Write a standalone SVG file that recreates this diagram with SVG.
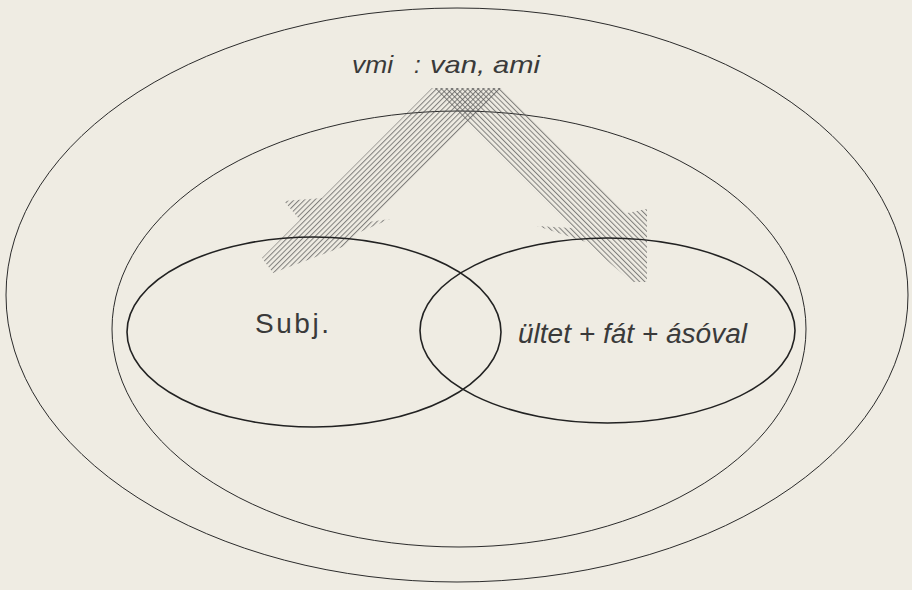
<svg xmlns="http://www.w3.org/2000/svg" width="912" height="590" viewBox="0 0 912 590">
  <style>
    .bg { fill: #efece3; }
    .thin { fill: none; stroke: #2b2b2b; stroke-width: 1; }
    .thick { fill: none; stroke: #222; stroke-width: 1.6; }
    .lbl { font-family: "Liberation Sans", "DejaVu Sans", sans-serif; fill: #3a3a3a; }
  </style>
  <defs>
    <pattern id="hatchL" width="3.7" height="10" patternUnits="userSpaceOnUse" patternTransform="rotate(45)">
      <line x1="1.5" y1="0" x2="1.5" y2="10" stroke="#505050" stroke-width="0.75"/>
    </pattern>
    <pattern id="hatchR" width="3.7" height="10" patternUnits="userSpaceOnUse" patternTransform="rotate(-45)">
      <line x1="1.5" y1="0" x2="1.5" y2="10" stroke="#505050" stroke-width="0.75"/>
    </pattern>
  </defs>
  <rect class="bg" x="0" y="0" width="912" height="590"/>

  <g id="universe">
    <ellipse class="thin" cx="457" cy="295" rx="451" ry="287"/>
  </g>
  <g id="domain">
    <ellipse class="thin" cx="459" cy="329" rx="347" ry="218"/>
  </g>

  <g id="connectors">
    <!-- left hatched arrow (towards Subj.) -->
    <path fill="url(#hatchL)" d="M432,88 L502,88 L368,222 L390,219 L360,232 L345,246 L273,273 L262,258 L300,220 L284,201 L322,198 Z"/>
    <!-- right hatched arrow (towards predicate) -->
    <path fill="url(#hatchR)" d="M432,88 L502,88 L627,213 L647,209 L647,282 L632,282 L590,246 L586,242 L537,226 L572,228 Z"/>
  </g>

  <g id="label-top">
    <text class="lbl" font-style="italic" font-size="24" y="73"><tspan x="352" textLength="41" lengthAdjust="spacingAndGlyphs">vmi</tspan><tspan x="414">:</tspan><tspan x="430" textLength="110" lengthAdjust="spacingAndGlyphs">van, ami</tspan></text>
  </g>

  <g id="subj">
    <ellipse class="thick" cx="314" cy="332" rx="187" ry="95"/>
    <text class="lbl" font-size="28" x="255" y="333" textLength="74" lengthAdjust="spacing">Subj.</text>
  </g>

  <g id="predicate">
    <ellipse class="thick" cx="607.5" cy="330.5" rx="187.5" ry="92.5"/>
    <text class="lbl" font-style="italic" font-size="27" x="518" y="343" textLength="229" lengthAdjust="spacingAndGlyphs">ültet + fát + ásóval</text>
  </g>
</svg>
